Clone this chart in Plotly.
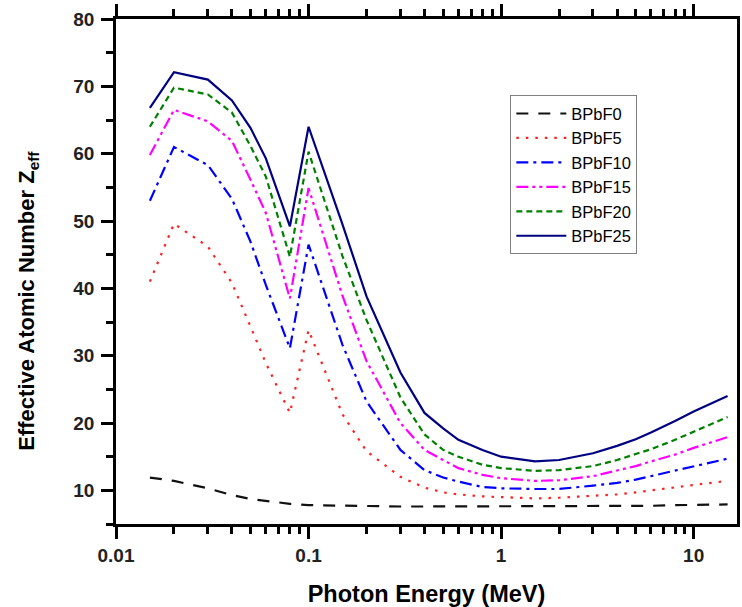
import plotly.graph_objects as go

energy = [0.015, 0.02, 0.03, 0.04, 0.05, 0.06, 0.08, 0.1, 0.15, 0.2, 0.3, 0.4, 0.5,
          0.6, 0.8, 1, 1.5, 2, 3, 4, 5, 6, 8, 10, 15]

bpbf0 = [11.9, 11.4, 10.3, 9.3, 8.7, 8.4, 8.0, 7.8, 7.7, 7.7, 7.6, 7.6, 7.6,
         7.6, 7.6, 7.6, 7.6, 7.6, 7.6, 7.7, 7.7, 7.7, 7.8, 7.8, 7.9]
bpbf5 = [41.0, 49.6, 46.2, 40.8, 34.3, 28.9, 21.5, 33.8, 21.3, 15.8, 12.0, 10.4, 9.7,
         9.4, 9.1, 9.0, 8.8, 8.9, 9.2, 9.4, 9.7, 10.0, 10.5, 10.8, 11.4]
bpbf10 = [53.0, 61.0, 58.3, 53.3, 46.9, 40.5, 31.1, 46.5, 31.6, 23.2, 16.0, 13.0, 11.9,
          11.3, 10.5, 10.3, 10.2, 10.2, 10.7, 11.1, 11.6, 12.1, 12.9, 13.5, 14.7]
bpbf15 = [59.8, 66.5, 64.8, 61.9, 56.1, 51.2, 38.5, 54.9, 38.9, 29.2, 20.0, 16.0, 14.5,
          13.3, 12.3, 11.8, 11.4, 11.5, 12.1, 12.9, 13.6, 14.3, 15.3, 16.3, 17.9]
bpbf20 = [64.0, 69.8, 68.8, 66.1, 61.1, 56.6, 44.7, 60.3, 44.8, 35.3, 23.8, 18.3, 16.0,
          15.0, 13.8, 13.3, 12.9, 13.0, 13.6, 14.5, 15.4, 16.1, 17.5, 18.7, 20.9]
bpbf25 = [66.8, 72.1, 71.0, 67.9, 63.8, 59.3, 49.2, 64.0, 49.5, 38.8, 27.5, 21.5, 19.2,
          17.5, 16.0, 15.0, 14.3, 14.5, 15.5, 16.6, 17.6, 18.6, 20.3, 21.7, 24.0]

series_names = ["BPbF0", "BPbF5", "BPbF10", "BPbF15", "BPbF20", "BPbF25"]
series_vals = [bpbf0, bpbf5, bpbf10, bpbf15, bpbf20, bpbf25]
colors = ["#111111", "#ff2020", "#0000ff", "#ff00ff", "#008000", "#000080"]
dashes = ["12px,10px", "2.5px,7px", "12px,5px,3px,5px", "12px,4px,3px,4px,3px,4px",
          "6px,4px", "solid"]

x_tickvals = [0.01, 0.1, 1, 10]
x_ticktext = ["0.01", "0.1", "1", "10"]
x_minor = [0.02, 0.03, 0.04, 0.05, 0.06, 0.07, 0.08, 0.09,
           0.2, 0.3, 0.4, 0.5, 0.6, 0.7, 0.8, 0.9,
           2, 3, 4, 5, 6, 7, 8, 9]
y_tickvals = [10, 20, 30, 40, 50, 60, 70, 80]

FONT = "Arial, Liberation Sans, sans-serif"

fig = go.Figure()
for name, vals, c, d in zip(series_names, series_vals, colors, dashes):
    fig.add_trace(go.Scatter(x=energy, y=vals, mode="lines", name=name,
                             line=dict(color=c, width=2.2, dash=d)))

fig.update_layout(
    width=742, height=607,
    margin=dict(l=116, r=2, t=19, b=83),
    paper_bgcolor="white", plot_bgcolor="white",
    font=dict(family=FONT, color="black"),
    showlegend=True,
    legend=dict(x=0.635, y=0.849, xanchor="left", yanchor="top",
                bgcolor="white", bordercolor="#808080", borderwidth=1,
                font=dict(size=16.5, family=FONT, color="black"),
                itemwidth=50, tracegroupgap=0),
)

fig.update_xaxes(
    type="log", range=[-2, 1.225],
    tickmode="array", tickvals=x_tickvals, ticktext=x_ticktext,
    ticks="outside", ticklen=12, tickwidth=2.5, tickcolor="black",
    showline=True, linecolor="black", linewidth=2.5, mirror="ticks",
    showgrid=False, zeroline=False,
    tickfont=dict(size=19, family=FONT, color="#222", weight="bold"),
    minor=dict(tickmode="array", tickvals=x_minor, ticks="outside", ticklen=7,
               tickwidth=2.5, tickcolor="black", showgrid=False),
    title=dict(text="<b>Photon Energy (MeV)</b>", font=dict(size=23.5, family=FONT),
               standoff=22),
)
fig.update_yaxes(
    range=[5, 80.001],
    tickmode="array", tickvals=y_tickvals,
    ticks="outside", ticklen=12, tickwidth=2.5, tickcolor="black",
    showline=True, linecolor="black", linewidth=2.5, mirror=True,
    showgrid=False, zeroline=False,
    tickfont=dict(size=19, family=FONT, color="#222", weight="bold"),
    ticklabelstandoff=3,
    minor=dict(dtick=5, tick0=5, ticks="outside", ticklen=7, tickwidth=2.5,
               tickcolor="black", showgrid=False),
)

fig.add_annotation(
    text="<b>Effective Atomic Number Z<sub>eff</sub></b>",
    textangle=-90, xref="paper", yref="paper",
    x=-0.141, y=0.443, xanchor="center", yanchor="middle",
    showarrow=False, font=dict(size=22, family=FONT, color="black"),
)

fig.write_html("out.html")
